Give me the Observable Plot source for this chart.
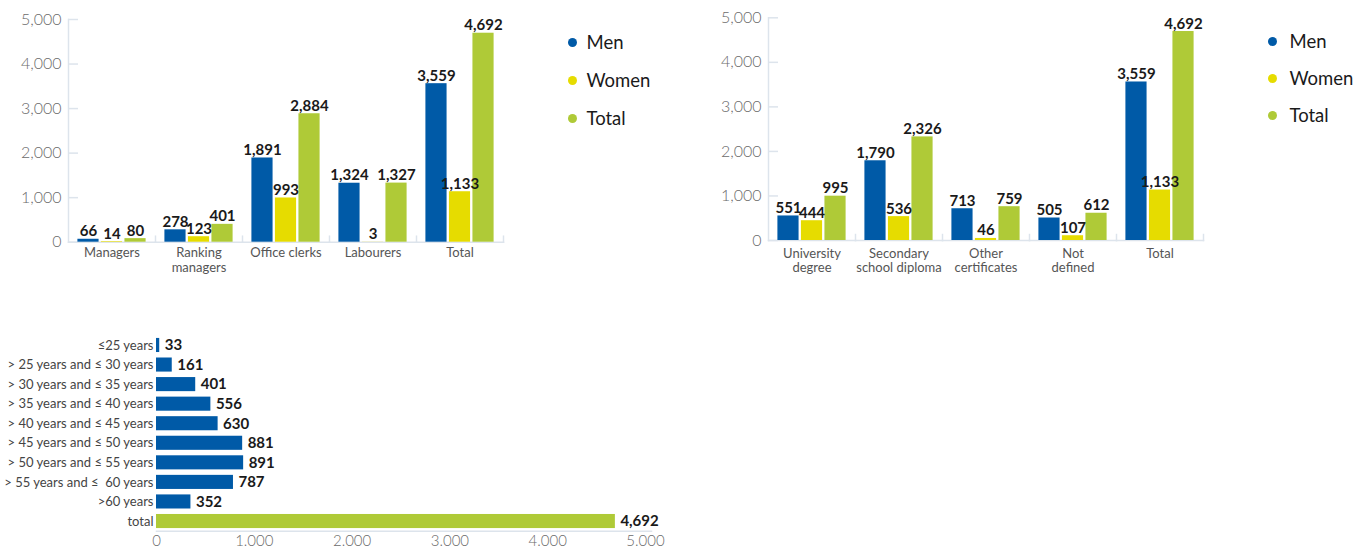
<!DOCTYPE html>
<html>
<head>
<meta charset="utf-8">
<script src="https://cdn.jsdelivr.net/npm/d3@7"></script>
<script src="https://cdn.jsdelivr.net/npm/@observablehq/plot@0.6"></script>
<style>
  body { margin: 0; background: #fff; font-family: Lato, "Open Sans", sans-serif; }
  #root { position: relative; width: 1354px; height: 548px; overflow: hidden; background: #fff; }
  .panel { position: absolute; }
  .panel svg { overflow: visible; }
  .legend { position: absolute; font-family: Lato, sans-serif; font-size: 18.5px; color: #1a1a1a; }
  .legend .item { display: flex; align-items: center; white-space: nowrap; }
  .legend .dot { display: inline-block; width: 9px; height: 9px; border-radius: 50%; }
</style>
</head>
<body>
<div id="root"></div>
<script>
// ---------- data ----------
const series = ["Men", "Women", "Total"];
const seriesColors = ["#005aa7", "#e6dc00", "#afca37"];

const jobCategories = ["Managers", "Ranking\nmanagers", "Office clerks", "Labourers", "Total"];
const jobMen   = [66, 278, 1891, 1324, 3559];
const jobWomen = [14, 123, 993, 3, 1133];
const jobTotal = [80, 401, 2884, 1327, 4692];

const eduCategories = ["University\ndegree", "Secondary\nschool diploma", "Other\ncertificates", "Not\ndefined", "Total"];
const eduMen   = [551, 1790, 713, 505, 3559];
const eduWomen = [444, 536, 46, 107, 1133];
const eduTotal = [995, 2326, 759, 612, 4692];

const ageCategories = [
  "≤25 years",
  "> 25 years and ≤ 30 years",
  "> 30 years and ≤ 35 years",
  "> 35 years and ≤ 40 years",
  "> 40 years and ≤ 45 years",
  "> 45 years and ≤ 50 years",
  "> 50 years and ≤ 55 years",
  "> 55 years and ≤  60 years",
  ">60 years",
  "total"
];
const ageValues = [33, 161, 401, 556, 630, 881, 891, 787, 352, 4692];
const ageSeries = ["Men", "Men", "Men", "Men", "Men", "Men", "Men", "Men", "Men", "Total"];

const yTicks = [0, 1000, 2000, 3000, 4000, 5000];
const ageTicks = [0, 1000, 2000, 3000, 4000, 5000];

// ---------- styles ----------
const axisColor = "#dde4ec";
const tickColor = "#6b6b6b";
const catColor = "#555555";
const valueColor = "#1a1a1a";
const font = "Lato, 'Open Sans', sans-serif";
const fmtComma = d3.format(",");
const fmtDot = d => d3.format(",")(d).replace(/,/g, ".");

const root = document.getElementById("root");

function panel(node, left, top) {
  const div = document.createElement("div");
  div.className = "panel";
  div.style.left = left + "px";
  div.style.top = top + "px";
  div.appendChild(node);
  root.appendChild(div);
}

function groupedChart(cats, men, women, total, opts) {
  const W = 520, H = 280, mL = 68, mR = 17;
  const {marginTop, marginBottom, catPadding} = opts;
  const plotH = H - marginTop - marginBottom;
  const facetW = (W - mL - mR) / cats.length;
  const vals = [men, women, total];
  const data = cats.flatMap((c, i) => series.map((s, j) => ({cat: c, s, v: vals[j][i]})));
  return Plot.plot({
    width: W, height: H,
    marginLeft: mL, marginRight: mR, marginTop, marginBottom,
    style: {fontFamily: font, background: "transparent"},
    fx: {domain: cats, padding: 0, round: false, label: null},
    x: {domain: series, paddingInner: 0.1, paddingOuter: 0.4, round: false, axis: null},
    y: {domain: [0, 5000]},
    color: {domain: series, range: seriesColors},
    marks: [
      Plot.frame({anchor: "left", facet: "super", stroke: axisColor, strokeWidth: 1.5}),
      Plot.frame({anchor: "bottom", stroke: axisColor, strokeWidth: 1.5}),
      Plot.frame({anchor: "right", insetTop: plotH - 6, stroke: axisColor, strokeWidth: 1.5}),
      Plot.ruleY(yTicks, {fx: () => cats[0], insetRight: facetW - 10, stroke: axisColor, strokeWidth: 1.5}),
      Plot.barY(data, {fx: "cat", x: "s", y: "v", fill: "s"}),
      Plot.text(data, {fx: "cat", x: "s", y: "v", text: d => fmtComma(d.v), lineAnchor: "bottom", dy: -3,
        fontSize: 15, fontWeight: "bold", fill: valueColor}),
      Plot.axisY({ticks: yTicks, tickFormat: fmtComma, tickSize: 0, tickPadding: 7, fontSize: 16,
        fontWeight: 300, fill: tickColor, label: null}),
      Plot.axisFx({anchor: "bottom", tickSize: 0, tickPadding: catPadding, fontSize: 13, fill: catColor,
        lineHeight: 1.1, label: null})
    ]
  });
}

function legend(left, top, gap, textGap) {
  const div = document.createElement("div");
  div.className = "legend";
  div.style.left = left + "px";
  div.style.top = (top - gap / 2) + "px";
  series.forEach((s, i) => {
    const item = document.createElement("div");
    item.className = "item";
    item.style.height = gap + "px";
    const dot = document.createElement("span");
    dot.className = "dot";
    dot.style.background = seriesColors[i];
    dot.style.marginRight = textGap + "px";
    item.appendChild(dot);
    item.appendChild(document.createTextNode(s));
    div.appendChild(item);
  });
  root.appendChild(div);
}

// top-left
panel(groupedChart(jobCategories, jobMen, jobWomen, jobTotal, {marginTop: 19, marginBottom: 38.3, catPadding: 5}), 0, 0);
legend(567.5, 42, 38, 10);

// top-right
panel(groupedChart(eduCategories, eduMen, eduWomen, eduTotal, {marginTop: 17.3, marginBottom: 40, catPadding: 7}), 700, 0);
legend(1267.5, 41, 37, 13);

// bottom
const ageData = ageCategories.map((c, i) => ({cat: c, v: ageValues[i], s: ageSeries[i]}));
panel(Plot.plot({
  width: 680, height: 218,
  marginLeft: 156, marginRight: 35, marginTop: 5.2, marginBottom: 17.2,
  style: {fontFamily: font, background: "transparent"},
  x: {domain: [0, 5000]},
  y: {domain: ageCategories, paddingInner: 0.28, paddingOuter: 0.14, round: false},
  color: {domain: series, range: seriesColors},
  marks: [
    Plot.frame({anchor: "bottom", insetRight: -6, stroke: axisColor, strokeWidth: 1.5}),
    Plot.barX(ageData, {y: "cat", x: "v", fill: "s"}),
    Plot.text(ageData, {y: "cat", x: "v", text: d => fmtComma(d.v), textAnchor: "start", dx: 5,
      fontSize: 15, fontWeight: "bold", fill: valueColor}),
    Plot.axisY({tickSize: 0, tickPadding: 3, fontSize: 13, fill: "#444", label: null}),
    Plot.axisX({ticks: ageTicks, tickFormat: fmtDot, tickSize: 0, tickPadding: 4, fontSize: 15,
      fontWeight: 300, fill: tickColor, label: null})
  ]
}), 0, 330);
</script>
</body>
</html>
